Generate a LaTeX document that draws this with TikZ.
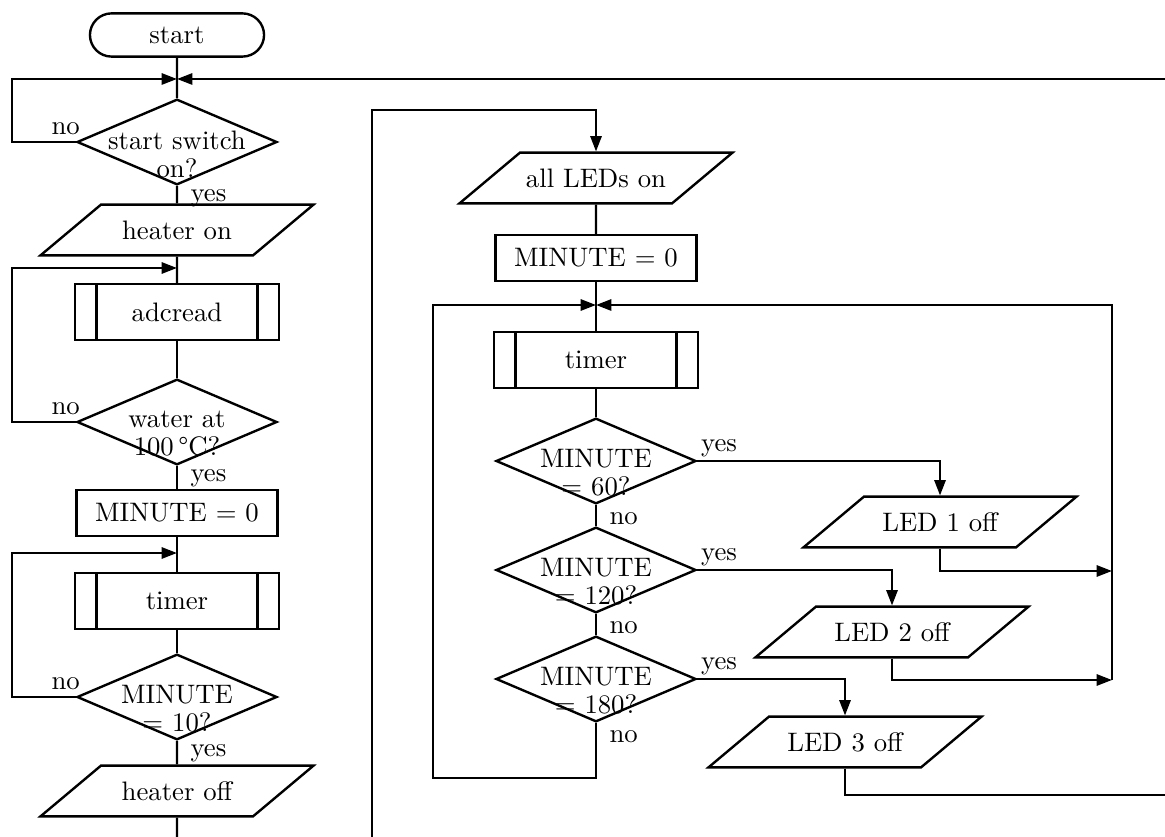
\documentclass[tikz,border=0pt]{standalone}
\usepackage{tikz}
\usetikzlibrary{arrows.meta,shapes.geometric,shapes.misc,positioning,calc}

\begin{document}
\begin{tikzpicture}[x=0.0125cm, y=-0.0125cm, line width=0.85pt,
    every node/.style={font=\fontsize{9.5}{10}\selectfont},
    term/.style={draw, rounded rectangle, minimum width=2.41cm, minimum height=0.54cm},
    proc/.style={draw, minimum width=2.51cm, minimum height=0.57cm, inner sep=0pt},
    sub/.style={draw, minimum width=2.55cm, minimum height=0.7cm, path picture={
        \draw ([xshift=0.27cm]path picture bounding box.north west) -- ([xshift=0.27cm]path picture bounding box.south west);
        \draw ([xshift=-0.27cm]path picture bounding box.north east) -- ([xshift=-0.27cm]path picture bounding box.south east);}},
    io/.style={draw, trapezium, trapezium left angle=40, trapezium right angle=140, trapezium stretches body,
        minimum width=3.41cm, text height=6.6pt, text depth=0pt, inner xsep=0pt, inner ysep=5.7pt},
    dec/.style={draw, diamond, minimum width=2.5cm, minimum height=1.07cm, inner sep=0pt},
    dtxt/.style={align=center, yshift=-0.15cm, inner sep=0pt},
    arr/.style={-{Triangle[length=5.5pt,width=4pt]}},
    lbl/.style={inner sep=1pt}
]
\useasboundingbox (0,0) rectangle (1165,837);

% heater side
\node[term] (st) at (177,35) {start};
\node[dec, label={[dtxt]center:start switch\\on?}] (q1) at (177,142) {};
\node[io] (hon) at (177,230) {heater on};
\node[sub] (adc) at (177,312) {adcread};
\node[dec, label={[dtxt]center:water at\\100\,{\textdegree}C?}] (q2) at (177,422) {};
\node[proc] (m0) at (177,513) {MINUTE = 0};
\node[sub] (tm) at (177,601) {timer};
\node[dec, label={[dtxt]center:MINUTE\\= 10?}] (q3) at (177,697) {};
\node[io] (hoff) at (177,791) {heater off};

\coordinate (j1) at (177,79);
\coordinate (j2) at (177,268);
\coordinate (j3) at (177,553);
\coordinate (e1) at (1165,79);
\coordinate (b0) at (177,837);

\draw (st) -- (q1);
\draw[arr] (q1.west) -- (12,142) |- (j1);
\draw[arr] (e1) -- (j1);
\draw (q1) -- (hon);
\draw (hon) -- (adc);
\draw[arr] (q2.west) -- (12,422) |- (j2);
\draw (adc) -- (q2);
\draw (q2) -- (m0);
\draw (m0) -- (tm);
\draw[arr] (q3.west) -- (12,697) |- (j3);
\draw (tm) -- (q3);
\draw (q3) -- (hoff);
\draw (hoff) -- (b0);

\node[lbl, anchor=south east] (n1) at ([xshift=0.1cm,yshift=0.04cm]q1.west) {no};
\node[lbl, anchor=north west] (y1) at ([xshift=0.12cm]q1.south) {yes};
\node[lbl, anchor=south east] (n2) at ([xshift=0.1cm,yshift=0.04cm]q2.west) {no};
\node[lbl, anchor=north west] (y2) at ([xshift=0.12cm]q2.south) {yes};
\node[lbl, anchor=south east] (n3) at ([xshift=0.1cm,yshift=0.04cm]q3.west) {no};
\node[lbl, anchor=north west] (y3) at ([xshift=0.12cm]q3.south) {yes};

% LED side
\node[io] (leds) at (596,178) {all LEDs on};
\node[proc] (m0b) at (596,258) {MINUTE = 0};
\node[sub] (tmb) at (596,360) {timer};
\node[dec, label={[dtxt]center:MINUTE\\= 60?}] (d1) at (596,461) {};
\node[dec, label={[dtxt]center:MINUTE\\= 120?}] (d2) at (596,570) {};
\node[dec, label={[dtxt]center:MINUTE\\= 180?}] (d3) at (596,679) {};
\node[io] (led1) at (940,522) {LED 1 off};
\node[io] (led2) at (892,632) {LED 2 off};
\node[io] (led3) at (845,742) {LED 3 off};

\coordinate (b1) at (372,837);
\coordinate (j4) at (596,305);
\coordinate (r0) at (1112,305);
\coordinate (r1) at (1112,571);
\coordinate (r2) at (1112,680);
\coordinate (e2) at (1165,795);

\draw[arr] (b1) -- (372,110) -| (leds.north);
\draw (leds) -- (m0b);
\draw (m0b) -- (tmb);
\draw (tmb) -- (d1);
\draw (d1) -- (d2);
\draw (d2) -- (d3);
\draw[arr] (d3.south) |- (433,778) |- (j4);
\draw[arr] (d1.east) -| (led1.north);
\draw[arr] (led1.south) |- (r1);
\draw[arr] (d2.east) -| (led2.north);
\draw[arr] (led2.south) |- (r2);
\draw[arr] (d3.east) -| (led3.north);
\draw (led3.south) |- (e2);
\draw[arr] (r2) -- (r0) -- (j4);

\node[lbl, anchor=south west] (y4) at (d1.east) {yes};
\node[lbl, anchor=north west] (n4) at ([xshift=0.12cm,yshift=-0.05cm]d1.south) {no};
\node[lbl, anchor=south west] (y5) at (d2.east) {yes};
\node[lbl, anchor=north west] (n5) at ([xshift=0.12cm,yshift=-0.05cm]d2.south) {no};
\node[lbl, anchor=south west] (y6) at (d3.east) {yes};
\node[lbl, anchor=north west] (n6) at ([xshift=0.12cm,yshift=-0.05cm]d3.south) {no};
\end{tikzpicture}
\end{document}
